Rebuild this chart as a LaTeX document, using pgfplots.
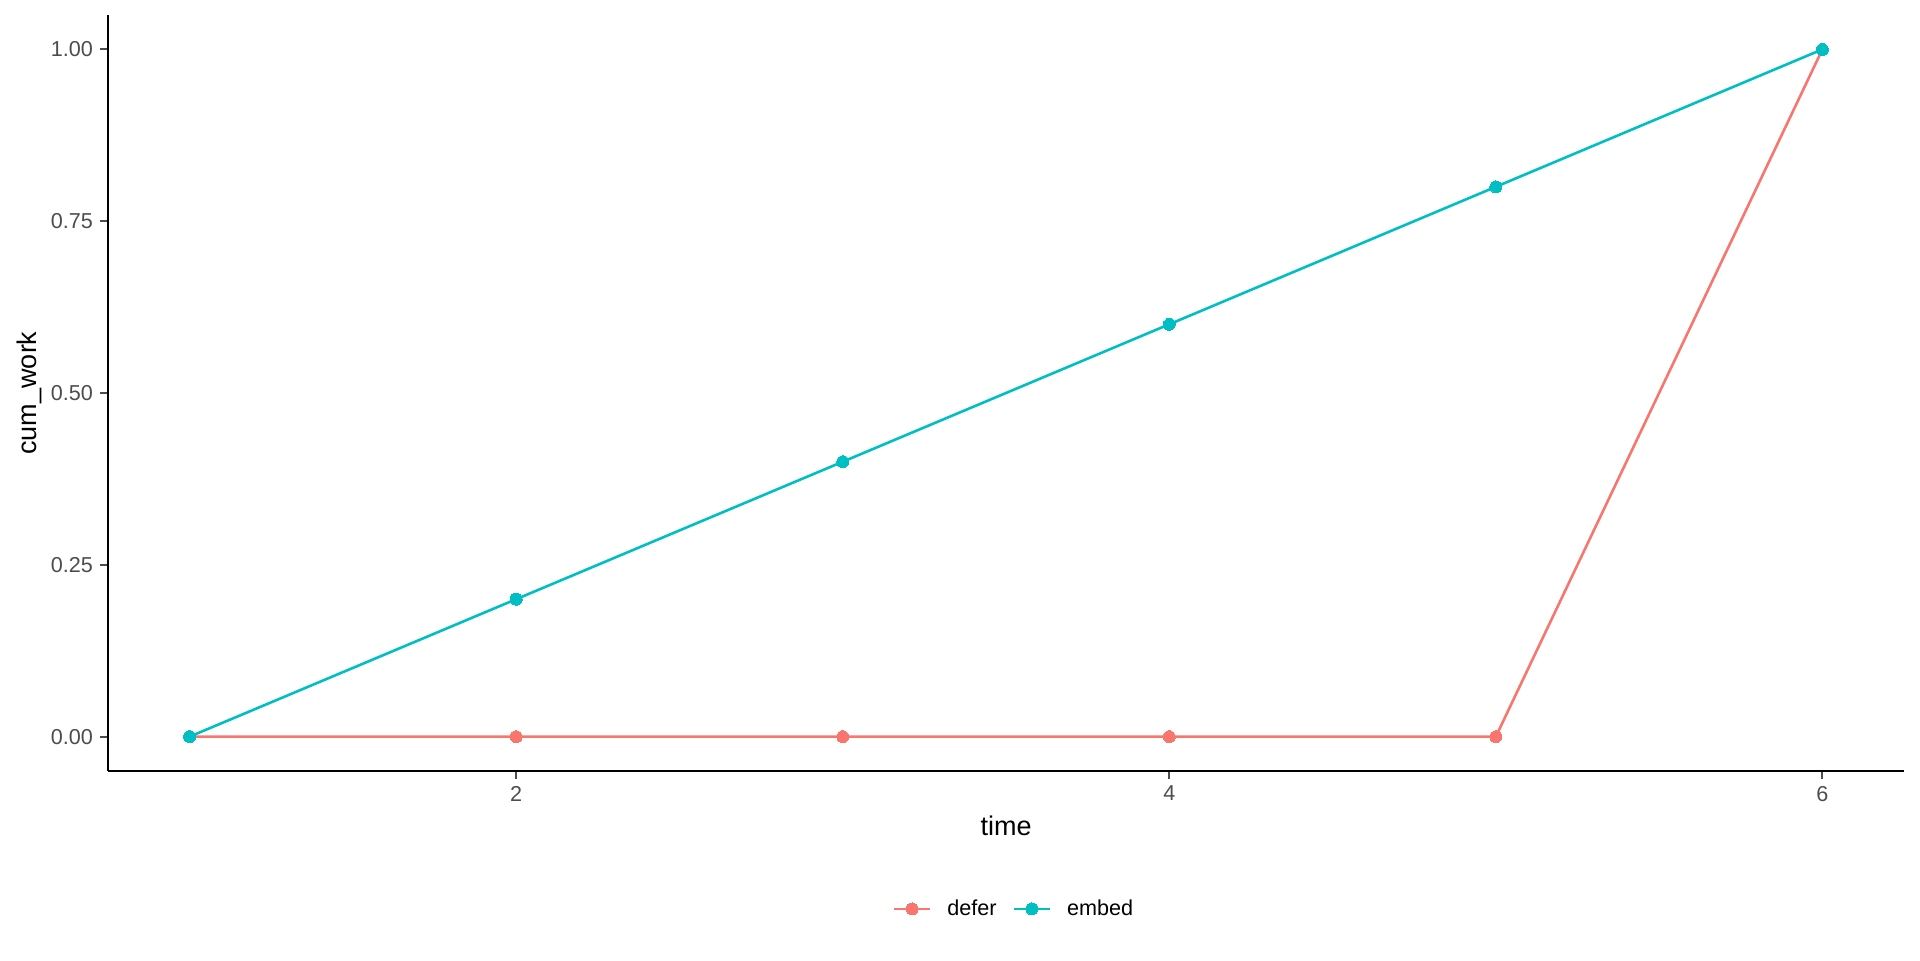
\documentclass[border=0pt]{standalone}
\usepackage{pgfplots}
\pgfplotsset{compat=1.18}
\usepackage{fontspec}
\setmainfont{Liberation Sans}
\usetikzlibrary{calc}
\definecolor{cdefer}{HTML}{F8766D}
\definecolor{cembed}{HTML}{00BFC4}
\definecolor{grey30}{HTML}{4D4D4D}
\begin{document}
\begin{tikzpicture}
\begin{axis}[
  name=ax,
  scale only axis,
  width=898bp, height=378bp,
  xmin=0.75, xmax=6.25,
  ymin=-0.05, ymax=1.05,
  axis lines=left,
  axis line style={-, line width=1.1bp, black},
  xtick={2,4,6},
  ytick={0,0.25,0.5,0.75,1},
  y tick label style={/pgf/number format/fixed, /pgf/number format/fixed zerofill, /pgf/number format/precision=2},
  /pgf/number format/assume math mode=true,
  tick align=outside,
  major tick length=4bp,
  tick style={line width=1.1bp, grey30},
  ticklabel style={font=\fontsize{10.8bp}{13bp}\selectfont, text=grey30},
  xlabel={time},
  ylabel={cum\_work},
  label style={font=\fontsize{13.5bp}{16bp}\selectfont},
  xlabel style={at={(axis description cs:0.5,-0.0728)}, anchor=center},
  ylabel style={at={(axis description cs:-0.0435,0.5)}, anchor=center},
  legend columns=2,
  legend style={draw=none, fill=none, at={(axis description cs:0.505,-0.1825)}, anchor=center,
    font=\fontsize{10.8bp}{13bp}\selectfont,
    /tikz/every odd column/.append style={column sep=6bp},
    /tikz/every even column/.append style={column sep=6bp}},
  legend cell align=left,
  legend image code/.code={\draw[mark repeat=2,mark phase=2,#1] plot coordinates {(0bp,0bp)(9bp,0bp)(18bp,0bp)};},
  clip=false,
]
\addplot[cdefer, line width=1.3bp, mark=*, mark size=3bp, mark options={draw=cdefer, fill=cdefer, line width=0pt}]
  coordinates {(1,0) (2,0) (3,0) (4,0) (5,0) (6,1)};
\addlegendentry{defer}
\addplot[cembed, line width=1.3bp, mark=*, mark size=3bp, mark options={draw=cembed, fill=cembed, line width=0pt}]
  coordinates {(1,0) (2,0.2) (3,0.4) (4,0.6) (5,0.8) (6,1)};
\addlegendentry{embed}
\end{axis}
\path[use as bounding box] ($(ax.south west)+(-54bp,-94.5bp)$) rectangle ($(ax.north east)+(8bp,7.5bp)$);
\end{tikzpicture}
\end{document}
